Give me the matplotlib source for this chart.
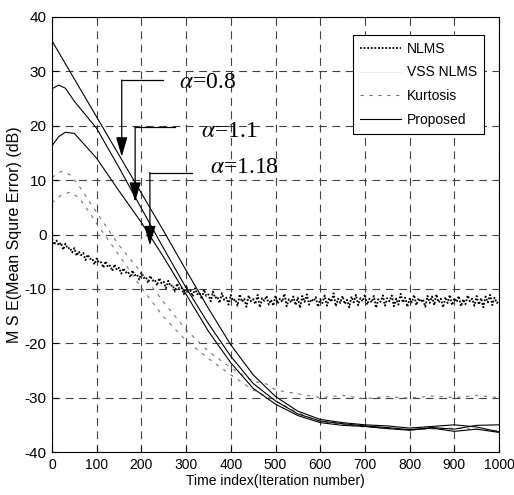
import matplotlib
matplotlib.use("Agg")
import matplotlib.pyplot as plt
from matplotlib import font_manager

# pick a narrow sans font if one is installed
installed = {f.name for f in font_manager.fontManager.ttflist}
narrow = [n for n in ['Liberation Sans Narrow', 'Arial Narrow', 'DejaVu Sans Condensed'] if n in installed]
plt.rcParams['font.family'] = narrow + ['Liberation Sans', 'DejaVu Sans']
plt.rcParams['axes.unicode_minus'] = False
plt.rcParams['mathtext.fontset'] = 'stix'
tick_size = 11 if narrow else 10

# NLMS curve, read every 5 iterations
nlms_x = list(range(0, 1001, 5))
nlms_y = [
    -0.8, -1.9, -1.1, -2.0, -1.5, -2.8, -1.7, -2.6, -2.4, -3.3,
    -2.5, -3.9, -3.1, -3.8, -3.4, -4.7, -3.7, -4.5, -4.4, -5.5,
    -4.4, -5.2, -5.1, -6.1, -4.9, -6.0, -5.7, -6.7, -5.5, -6.5,
    -6.1, -7.2, -6.2, -7.0, -6.8, -7.9, -6.6, -7.5, -7.3, -8.3,
    -7.0, -8.0, -7.8, -8.9, -7.6, -8.5, -8.3, -9.4, -8.0, -9.0,
    -8.7, -9.9, -8.5, -9.5, -9.3, -10.5, -9.0, -10.0, -9.8, -11.0,
    -9.4, -10.6, -10.3, -11.4, -9.9, -11.0, -10.7, -11.9, -10.1, -11.3,
    -11.0, -12.3, -10.5, -11.7, -11.4, -12.6, -10.8, -12.0, -11.6, -12.9,
    -11.1, -12.2, -11.9, -13.1, -11.0, -12.4, -11.8, -13.3, -11.2, -12.3,
    -11.9, -12.8, -11.1, -13.4, -11.7, -12.2, -11.3, -12.9, -12.0, -13.1,
    -11.2, -12.7, -11.8, -12.4, -10.9, -13.2, -11.9, -12.5, -11.4, -13.0,
    -11.6, -13.5, -11.3, -12.4, -11.0, -12.9, -11.9, -12.3, -11.5, -13.3,
    -11.9, -12.6, -11.2, -13.1, -11.7, -12.4, -10.8, -13.2, -11.8, -12.6,
    -11.3, -12.8, -12.0, -13.4, -11.4, -12.5, -11.1, -13.0, -11.7, -12.3,
    -11.0, -12.9, -11.8, -12.5, -11.3, -13.5, -11.9, -12.4, -11.2, -13.1,
    -11.7, -12.3, -11.2, -13.2, -11.8, -12.9, -10.9, -12.5, -11.6, -13.3,
    -11.8, -12.5, -11.1, -13.0, -11.7, -12.4, -11.9, -13.3, -11.3, -12.6,
    -11.4, -13.0, -11.0, -12.5, -11.8, -13.4, -11.5, -12.6, -11.1, -13.0,
    -11.7, -12.4, -11.3, -13.2, -11.9, -12.8, -11.2, -12.3, -11.8, -13.1,
    -11.3, -12.9, -11.7, -13.4, -11.4, -12.5, -11.1, -13.0, -11.6, -12.6,
    -12.2,
]

# Kurtosis curves (dashed)
kurt1_x = [0, 20, 40, 60, 80, 100, 150, 200, 250, 300, 350, 400, 450, 480, 500,
           550, 600, 650, 700, 750, 800, 850, 900, 950, 1000]
kurt1_y = [10.5, 11.6, 11.0, 9.0, 6.5, 4.0, -2.0, -7.0, -12.5, -17.5, -21.5, -24.5,
           -27.0, -27.5, -28.6, -29.3, -30.0, -29.6, -30.2, -29.8, -30.1, -29.7,
           -30.0, -29.6, -30.0]
kurt2_x = [0, 20, 40, 60, 80, 100, 150, 200, 250, 300, 350, 400, 450, 500, 550,
           600, 700, 800, 900, 1000]
kurt2_y = [5.8, 7.2, 7.8, 6.8, 4.5, 2.0, -3.8, -9.8, -15.2, -19.5, -22.8, -25.8,
           -28.6, -30.6, -32.8, -34.4, -35.4, -35.9, -35.6, -36.1]

# Proposed curves for three alpha values
prop_x = [0, 15, 30, 50, 100, 150, 200, 250, 300, 350, 400, 450, 500, 550, 600,
          650, 700, 750, 800, 850, 900, 950, 1000]
prop08_y = [35.6, 33.5, 31.4, 28.6, 21.6, 14.6, 7.6, 0.6, -6.6, -13.6, -20.3,
            -25.8, -29.8, -32.5, -34.0, -34.6, -35.0, -35.2, -35.6, -35.3, -35.0,
            -35.4, -36.3]
prop11_y = [26.8, 27.5, 26.9, 24.5, 19.5, 12.3, 4.8, -2.6, -9.8, -16.4, -22.4,
            -27.4, -30.6, -33.0, -34.3, -34.8, -35.2, -35.5, -35.9, -35.5, -35.8,
            -35.1, -35.0]
prop118_y = [16.3, 18.0, 18.8, 18.6, 14.0, 8.0, 2.2, -4.2, -11.0, -17.8, -23.6,
             -28.3, -31.2, -33.3, -34.6, -35.1, -35.3, -35.7, -36.0, -35.6, -36.2,
             -35.8, -36.4]

# annotation arrows: corner of the bent line, tip, label position
arrow_corner = [(156, 28.4), (186, 19.8), (219, 11.4)]
arrow_end = [(248, 28.4), (275, 19.8), (313, 11.4)]
arrow_tip = [(156, 14.3), (186, 6.0), (219, -2.0)]
arrow_label = [r'$\alpha$=0.8', r'$\alpha$=1.1', r'$\alpha$=1.18']
label_pos = [(284, 28.0), (334, 18.9), (354, 12.4)]

fig = plt.figure(figsize=(5.14, 4.95), dpi=100)
ax = fig.add_axes([52/514, 43/495, 447/514, 435/495])

ax.plot(nlms_x, nlms_y, color='black', lw=1.3, ls=(0, (1, 1)), label='NLMS')
ax.plot([], [], color='0.93', lw=0.8, label='VSS NLMS')
ax.plot(kurt1_x, kurt1_y, color='0.45', lw=0.8, ls=(0, (3, 5)), label='Kurtosis')
ax.plot(kurt2_x, kurt2_y, color='0.45', lw=0.8, ls=(0, (3, 5)))
ax.plot(prop_x, prop08_y, color='black', lw=0.8, label='Proposed')
ax.plot(prop_x, prop11_y, color='black', lw=0.8)
ax.plot(prop_x, prop118_y, color='black', lw=0.8)

for c, e, t, lab, p in zip(arrow_corner, arrow_end, arrow_tip, arrow_label, label_pos):
    ax.plot([c[0], e[0]], [c[1], e[1]], color='black', lw=0.9)
    ax.annotate('', xy=t, xytext=c,
                arrowprops=dict(arrowstyle='-|>,head_length=1.2,head_width=0.35',
                                color='black', lw=0.9, shrinkA=0, shrinkB=0))
    ax.text(p[0], p[1], lab, fontsize=17, va='center', ha='left',
            family=['Liberation Serif', 'DejaVu Serif'])

ax.set_xlim(0, 1000)
ax.set_ylim(-40, 40)
ax.set_xticks(range(0, 1001, 100))
ax.set_yticks(range(-40, 41, 10))
ax.tick_params(direction='in', length=4, labelsize=tick_size, pad=4)
ax.tick_params(axis='y', labelsize=tick_size + 1)
ax.grid(True, color='0.25', lw=0.8, ls=(0, (7, 5)))
ax.set_xlabel('Time index(Iteration number)', fontsize=tick_size, labelpad=2)
ax.set_ylabel('M S E(Mean Squre Error) (dB)', fontsize=tick_size + 1.5, labelpad=2)

leg = ax.legend(loc='upper right', bbox_to_anchor=(0.982, 0.975),
                fontsize=tick_size, fancybox=False, framealpha=1,
                edgecolor='black', labelspacing=0.7, handlelength=3.0,
                handletextpad=0.4, borderpad=0.5)
leg.get_frame().set_linewidth(0.8)

fig.savefig('out.png', dpi=100)
